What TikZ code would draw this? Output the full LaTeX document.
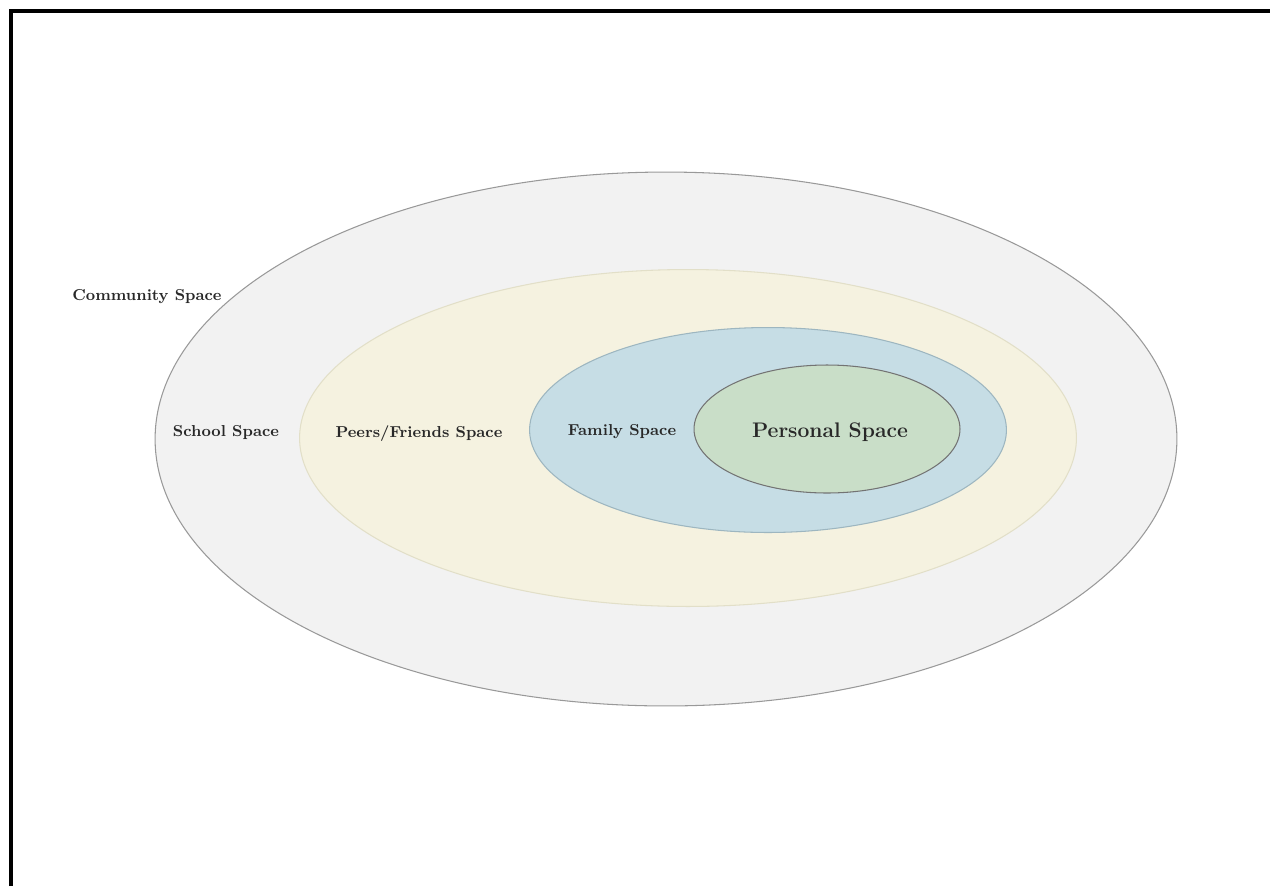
\documentclass[tikz,border=0pt]{standalone}
\usepackage{tikz}
\usetikzlibrary{positioning,shapes.geometric}
\definecolor{communityfill}{HTML}{F2F2F2}
\definecolor{peersfill}{HTML}{F5F2E0}
\definecolor{peersline}{HTML}{E2DFC8}
\definecolor{familyfill}{HTML}{C6DDE5}
\definecolor{familyline}{HTML}{9DB6C0}
\definecolor{personalfill}{HTML}{C9DEC8}
\definecolor{labeltext}{HTML}{282828}
\tikzset{space node/.style={ellipse,draw,line width=0.6pt,inner sep=0pt},
         space label/.style={font=\small\bfseries,text=labeltext,inner sep=0pt} }

\begin{document}
\begin{tikzpicture}[x=0.02cm,y=-0.02cm]
  \useasboundingbox (0,0) rectangle (1270,886);
  \draw[line width=2pt] (11,886) -- (11,11) -- (1270,11);

  % nested spaces
  \node[space node, fill=communityfill, draw=gray!80, minimum width=20.44cm, minimum height=10.68cm] (community) at (666,439) {};
  \node[space node, fill=peersfill, draw=peersline, minimum width=15.54cm, minimum height=6.74cm] (peers) at (688,438) {};
  \node[space node, fill=familyfill, draw=familyline, minimum width=9.54cm, minimum height=4.1cm] (family) at (768,430) {};
  \node[space node, fill=personalfill, draw=gray!90!black, minimum width=5.32cm, minimum height=2.56cm] (personal) at (827,429) {};

  % labels
  \node[space label] (communitylbl) at (147,297) {Community Space};
  \node[space label] (schoollbl) at (226,433) {School Space};
  \node[space label] (peerslbl) at (419,434) {Peers/Friends Space};
  \node[space label] (familylbl) at (622,432) {Family Space};
  \node[space label, font=\large\bfseries] (personallbl) at (830,432) {Personal Space};
\end{tikzpicture}
\end{document}
